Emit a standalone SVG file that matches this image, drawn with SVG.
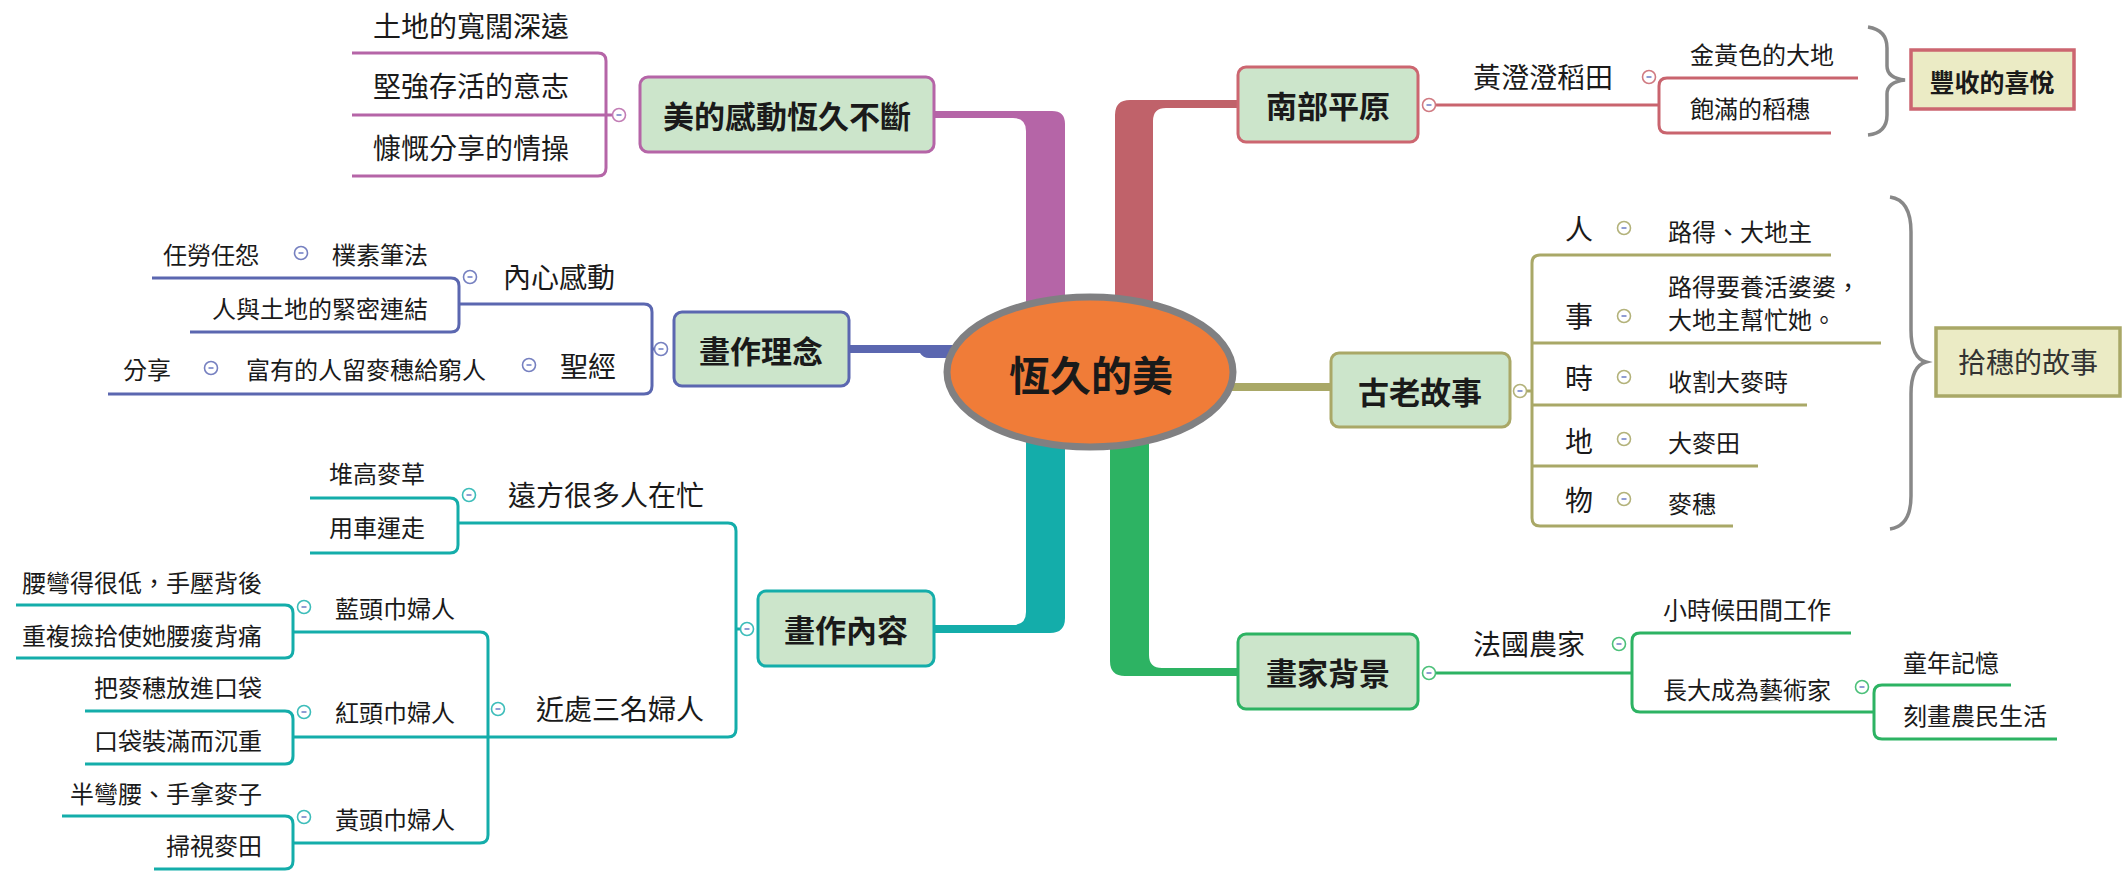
<svg xmlns="http://www.w3.org/2000/svg" width="2124" height="872" viewBox="0 0 2124 872">
<defs>
<style>
text{font-family:"Noto Sans CJK TC","Noto Sans CJK SC",sans-serif;fill:#1a1a1a;dominant-baseline:central}
.box{stroke-width:3;fill:#CCE5CB}
.bt{font-size:31px;font-weight:700;text-anchor:middle}
.t28{font-size:28px}
.t24{font-size:24px}
.e{text-anchor:end}
.m{text-anchor:middle}
.ln{fill:none;stroke-width:3;stroke-linecap:butt}
.col{fill:#fff;stroke-width:1.6}
.mi{stroke:#6B7BC4;stroke-width:1.5}
.brace{fill:none;stroke:#888;stroke-width:3.5}
</style>
</defs>
<rect width="2124" height="872" fill="#fff"/>

<g id="connectors">
<!-- trunks -->
<path d="M934,111 H1052 Q1065,111 1065,124 V320 H1026 V131 Q1026,118 1013,118 H934 Z" fill="#B565A7"/>
<path d="M1238,100 H1130 Q1115,100 1115,115 V320 H1153 V121 Q1153,108 1166,108 H1238 Z" fill="#C0626A"/>
<path d="M849,345 H965 V358 H929 Q923,358 920,353 H849 Z" fill="#5B67B0"/>
<rect x="1210" y="383" width="122" height="8" fill="#A9A867"/>
<path d="M1026,420 V612 Q1026,625 1013,625 H934 V633 H1050 Q1065,633 1065,618 V420 Z" fill="#14ADAA"/>
<path d="M1110,420 V661 Q1110,676 1125,676 H1238 V668 H1162 Q1149,668 1149,655 V420 Z" fill="#2DB363"/>

<!-- pink -->
<g class="ln" stroke="#B565A7">
<path d="M352,53 H598 Q606,53 606,61 V168 Q606,176 598,176 H352"/>
<path d="M352,115 H613"/>
</g>
<!-- blue -->
<g class="ln" stroke="#5B67B0">
<path d="M459,304 H644 Q652,304 652,312 V386 Q652,394 644,394 H108"/>
<path d="M652,349 H655"/>
<path d="M152,278 H451 Q459,278 459,286 V324 Q459,332 451,332 H190"/>
</g>
<!-- teal -->
<g class="ln" stroke="#14ADAA">
<path d="M458,523 H728 Q736,523 736,531 V729 Q736,737 728,737 H294"/>
<path d="M736,629 H741"/>
<path d="M310,498 H450 Q458,498 458,506 V545 Q458,553 450,553 H310"/>
<path d="M293,632 H480 Q488,632 488,640 V835 Q488,843 480,843 H293"/>
<path d="M16,605 H285 Q293,605 293,613 V650 Q293,658 285,658 H16"/>
<path d="M85,711 H285 Q293,711 293,719 V756 Q293,764 285,764 H85"/>
<path d="M62,816 H285 Q293,816 293,824 V861 Q293,869 285,869 H154"/>
</g>
<!-- red -->
<g class="ln" stroke="#C9646E">
<path d="M1436,105 H1659"/>
<path d="M1858,78 H1667 Q1659,78 1659,86 V125 Q1659,133 1667,133 H1831"/>
</g>
<!-- olive -->
<g class="ln" stroke="#A9A867">
<path d="M1831,255 H1540 Q1532,255 1532,263 V518 Q1532,526 1540,526 H1733"/>
<path d="M1532,343 H1881"/>
<path d="M1532,405 H1807"/>
<path d="M1532,466 H1758"/>
<path d="M1526,391 H1532"/>
</g>
<!-- green -->
<g class="ln" stroke="#2DB363">
<path d="M1436,673 H1632"/>
<path d="M1851,633 H1640 Q1632,633 1632,641 V704 Q1632,712 1640,712 H1874"/>
<path d="M2011,685 H1882 Q1874,685 1874,693 V731 Q1874,739 1882,739 H2057"/>
</g>
<!-- braces -->
<path class="brace" d="M1868,27 Q1887,30 1887,48 V66 Q1887,78 1905,80 Q1887,82 1887,94 V115 Q1887,133 1868,135"/>
<path class="brace" stroke-width="4" d="M1890,197 Q1911,200 1911,232 V330 Q1911,358 1926,362 Q1911,366 1911,394 V496 Q1911,526 1890,529"/>
</g>

<g id="center">
<ellipse cx="1090" cy="372" rx="143" ry="75" fill="#F07C38" stroke="#808082" stroke-width="7"/>
<text x="1091" y="373" class="m" style="font-size:41px;font-weight:700">恆久的美</text>
</g>

<!-- pink branch -->
<g id="n-beauty">
<rect class="box" x="640" y="77" width="294" height="75" rx="8" stroke="#B565A7"/>
<text class="bt" x="787" y="114">美的感動恆久不斷</text>
<circle class="col" cx="619" cy="115" r="6.5" stroke="#C27DB5"/><path class="mi" d="M616.5,115 H621.5"/>
</g>
<g id="n-land"><text class="t28" x="373" y="25">土地的寬闊深遠</text></g>
<g id="n-will"><text class="t28" x="373" y="85">堅強存活的意志</text></g>
<g id="n-share"><text class="t28" x="373" y="147">慷慨分享的情操</text></g>

<!-- blue branch -->
<g id="n-idea">
<rect class="box" x="674" y="312" width="175" height="74" rx="8" stroke="#5B67B0"/>
<text class="bt" x="761" y="349">畫作理念</text>
<circle class="col" cx="661" cy="349" r="6.5" stroke="#7680C0"/><path class="mi" d="M658.5,349 H663.5"/>
</g>
<g id="n-heart">
<text class="t28 e" x="615" y="276">內心感動</text>
<circle class="col" cx="470" cy="277" r="6.5" stroke="#7680C0"/><path class="mi" d="M467.5,277 H472.5"/>
</g>
<g id="n-plain">
<text class="t24 e" x="428" y="253">樸素筆法</text>
<circle class="col" cx="301" cy="253" r="6.5" stroke="#7680C0"/><path class="mi" d="M298.5,253 H303.5"/>
</g>
<g id="n-toil"><text class="t24 e" x="259" y="253">任勞任怨</text></g>
<g id="n-bond"><text class="t24 e" x="428" y="307">人與土地的緊密連結</text></g>
<g id="n-bible">
<text class="t28 e" x="616" y="365">聖經</text>
<circle class="col" cx="529" cy="365" r="6.5" stroke="#7680C0"/><path class="mi" d="M526.5,365 H531.5"/>
</g>
<g id="n-rich">
<text class="t24 e" x="486" y="368">富有的人留麥穗給窮人</text>
<circle class="col" cx="211" cy="368" r="6.5" stroke="#7680C0"/><path class="mi" d="M208.5,368 H213.5"/>
</g>
<g id="n-sharing"><text class="t24 e" x="171" y="368">分享</text></g>

<!-- teal branch -->
<g id="n-content">
<rect class="box" x="758" y="591" width="176" height="75" rx="8" stroke="#14ADAA"/>
<text class="bt" x="846" y="628">畫作內容</text>
<circle class="col" cx="747" cy="629" r="6.5" stroke="#3DBDBA"/><path class="mi" d="M744.5,629 H749.5"/>
</g>
<g id="n-far">
<text class="t28 e" x="704" y="494">遠方很多人在忙</text>
<circle class="col" cx="469" cy="495" r="6.5" stroke="#3DBDBA"/><path class="mi" d="M466.5,495 H471.5"/>
</g>
<g id="n-stack"><text class="t24 e" x="425" y="472">堆高麥草</text></g>
<g id="n-cart"><text class="t24 e" x="425" y="526">用車運走</text></g>
<g id="n-near">
<text class="t28 e" x="704" y="708">近處三名婦人</text>
<circle class="col" cx="498" cy="709" r="6.5" stroke="#3DBDBA"/><path class="mi" d="M495.5,709 H500.5"/>
</g>
<g id="n-blue">
<text class="t24 e" x="455" y="607">藍頭巾婦人</text>
<circle class="col" cx="304" cy="607" r="6.5" stroke="#3DBDBA"/><path class="mi" d="M301.5,607 H306.5"/>
</g>
<g id="n-b1"><text class="t24 e" x="262" y="581">腰彎得很低，手壓背後</text></g>
<g id="n-b2"><text class="t24 e" x="262" y="634">重複撿拾使她腰痠背痛</text></g>
<g id="n-red">
<text class="t24 e" x="455" y="711">紅頭巾婦人</text>
<circle class="col" cx="304" cy="712" r="6.5" stroke="#3DBDBA"/><path class="mi" d="M301.5,712 H306.5"/>
</g>
<g id="n-r1"><text class="t24 e" x="262" y="686">把麥穗放進口袋</text></g>
<g id="n-r2"><text class="t24 e" x="262" y="739">口袋裝滿而沉重</text></g>
<g id="n-yellow">
<text class="t24 e" x="455" y="818">黃頭巾婦人</text>
<circle class="col" cx="304" cy="817" r="6.5" stroke="#3DBDBA"/><path class="mi" d="M301.5,817 H306.5"/>
</g>
<g id="n-y1"><text class="t24 e" x="262" y="792">半彎腰、手拿麥子</text></g>
<g id="n-y2"><text class="t24 e" x="262" y="844">掃視麥田</text></g>

<!-- red branch -->
<g id="n-south">
<rect class="box" x="1238" y="67" width="180" height="75" rx="8" stroke="#CC6670"/>
<text class="bt" x="1328" y="104">南部平原</text>
<circle class="col" cx="1429" cy="105" r="6.5" stroke="#D07A82"/><path class="mi" d="M1426.5,105 H1431.5"/>
</g>
<g id="n-paddy">
<text class="t28" x="1473" y="76">黃澄澄稻田</text>
<circle class="col" cx="1649" cy="77" r="6.5" stroke="#D07A82"/><path class="mi" d="M1646.5,77 H1651.5"/>
</g>
<g id="n-gold"><text class="t24" x="1690" y="53">金黃色的大地</text></g>
<g id="n-ear"><text class="t24" x="1690" y="107">飽滿的稻穗</text></g>
<g id="n-harvest">
<rect x="1911" y="50" width="163" height="59" fill="#EBEBC5" stroke="#CC6670" stroke-width="3.5"/>
<text class="m" x="1992" y="81" style="font-size:25px;font-weight:700">豐收的喜悅</text>
</g>

<!-- olive branch -->
<g id="n-story">
<rect class="box" x="1331" y="353" width="179" height="74" rx="8" stroke="#A9A867"/>
<text class="bt" x="1420" y="390">古老故事</text>
<circle class="col" cx="1520" cy="391" r="6.5" stroke="#B3B27A"/><path class="mi" d="M1517.5,391 H1522.5"/>
</g>
<g id="n-who">
<text class="t28 m" x="1579" y="228">人</text>
<circle class="col" cx="1624" cy="228" r="6.5" stroke="#B3B27A"/><path class="mi" d="M1621.5,228 H1626.5"/>
<text class="t24" x="1668" y="230">路得、大地主</text>
</g>
<g id="n-what">
<text class="t28 m" x="1579" y="315">事</text>
<circle class="col" cx="1624" cy="316" r="6.5" stroke="#B3B27A"/><path class="mi" d="M1621.5,316 H1626.5"/>
<text class="t24" x="1668" y="285">路得要養活婆婆，</text>
<text class="t24" x="1668" y="318">大地主幫忙她。</text>
</g>
<g id="n-when">
<text class="t28 m" x="1579" y="377">時</text>
<circle class="col" cx="1624" cy="377" r="6.5" stroke="#B3B27A"/><path class="mi" d="M1621.5,377 H1626.5"/>
<text class="t24" x="1668" y="380">收割大麥時</text>
</g>
<g id="n-where">
<text class="t28 m" x="1579" y="440">地</text>
<circle class="col" cx="1624" cy="439" r="6.5" stroke="#B3B27A"/><path class="mi" d="M1621.5,439 H1626.5"/>
<text class="t24" x="1668" y="441">大麥田</text>
</g>
<g id="n-thing">
<text class="t28 m" x="1579" y="499">物</text>
<circle class="col" cx="1624" cy="499" r="6.5" stroke="#B3B27A"/><path class="mi" d="M1621.5,499 H1626.5"/>
<text class="t24" x="1668" y="502">麥穗</text>
</g>
<g id="n-gleaners">
<rect x="1936" y="328" width="184" height="68" fill="#EBEBC5" stroke="#A9A867" stroke-width="3.5"/>
<text class="m" x="2028" y="361" style="font-size:28px;fill:#333">拾穗的故事</text>
</g>

<!-- green branch -->
<g id="n-painter">
<rect class="box" x="1238" y="634" width="180" height="75" rx="8" stroke="#2DB363"/>
<text class="bt" x="1328" y="671">畫家背景</text>
<circle class="col" cx="1429" cy="673" r="6.5" stroke="#4CC07A"/><path class="mi" d="M1426.5,673 H1431.5"/>
</g>
<g id="n-farm">
<text class="t28" x="1473" y="643">法國農家</text>
<circle class="col" cx="1619" cy="644" r="6.5" stroke="#4CC07A"/><path class="mi" d="M1616.5,644 H1621.5"/>
</g>
<g id="n-child"><text class="t24" x="1663" y="608">小時候田間工作</text></g>
<g id="n-artist">
<text class="t24" x="1663" y="688">長大成為藝術家</text>
<circle class="col" cx="1862" cy="687" r="6.5" stroke="#4CC07A"/><path class="mi" d="M1859.5,687 H1864.5"/>
</g>
<g id="n-memory"><text class="t24" x="1903" y="661">童年記憶</text></g>
<g id="n-depict"><text class="t24" x="1903" y="714">刻畫農民生活</text></g>
</svg>
